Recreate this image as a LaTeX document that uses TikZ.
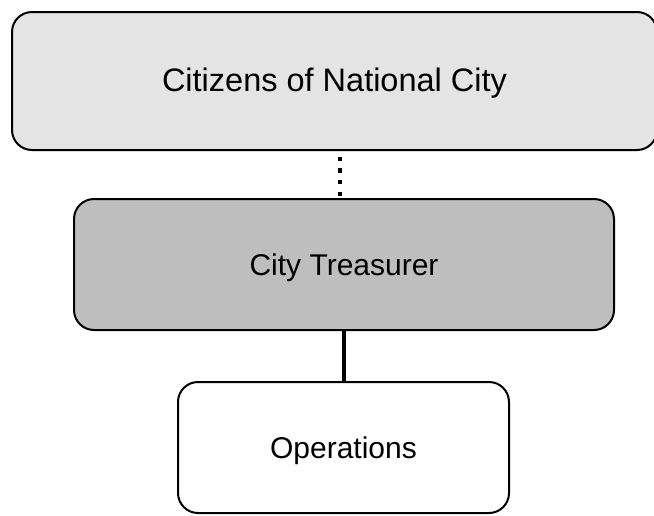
\documentclass[tikz,border=0pt]{standalone}
\usepackage{fontspec}
\setmainfont{Liberation Sans}
\definecolor{citizenfill}{HTML}{E4E4E4}
\definecolor{treasurerfill}{HTML}{BEBEBE}
\begin{document}
\begin{tikzpicture}[x=1pt,y=-1pt]
      \useasboundingbox (0,0) rectangle (654,515);
      \begin{scope}[every node/.style={rectangle,rounded corners=20pt,draw=black,line width=2pt,text height=21.5pt,text depth=0pt}]
        \node[fill=citizenfill,minimum width=645pt,minimum height=138pt,font=\fontsize{32.5}{38}\selectfont] (citizens) at (334.5,81) {Citizens of National City};
        \node[fill=treasurerfill,minimum width=540pt,minimum height=131pt,font=\fontsize{30}{36}\selectfont] (treasurer) at (344,264.5) {City Treasurer};
        \node[fill=white,minimum width=331pt,minimum height=131pt,font=\fontsize{30}{36}\selectfont] (operations) at (343.5,447.5) {Operations};
      \end{scope}
      \begin{scope}[every edge/.style={draw=black,line width=4pt}]
        \path ([xshift=5.5pt]citizens.south) edge[dash pattern=on 4.3pt off 7.5pt,dash phase=6.3pt] ([xshift=-4pt]treasurer.north);
        \path (treasurer.south -| operations.north) edge (operations.north);
      \end{scope}
    \end{tikzpicture}
\end{document}
